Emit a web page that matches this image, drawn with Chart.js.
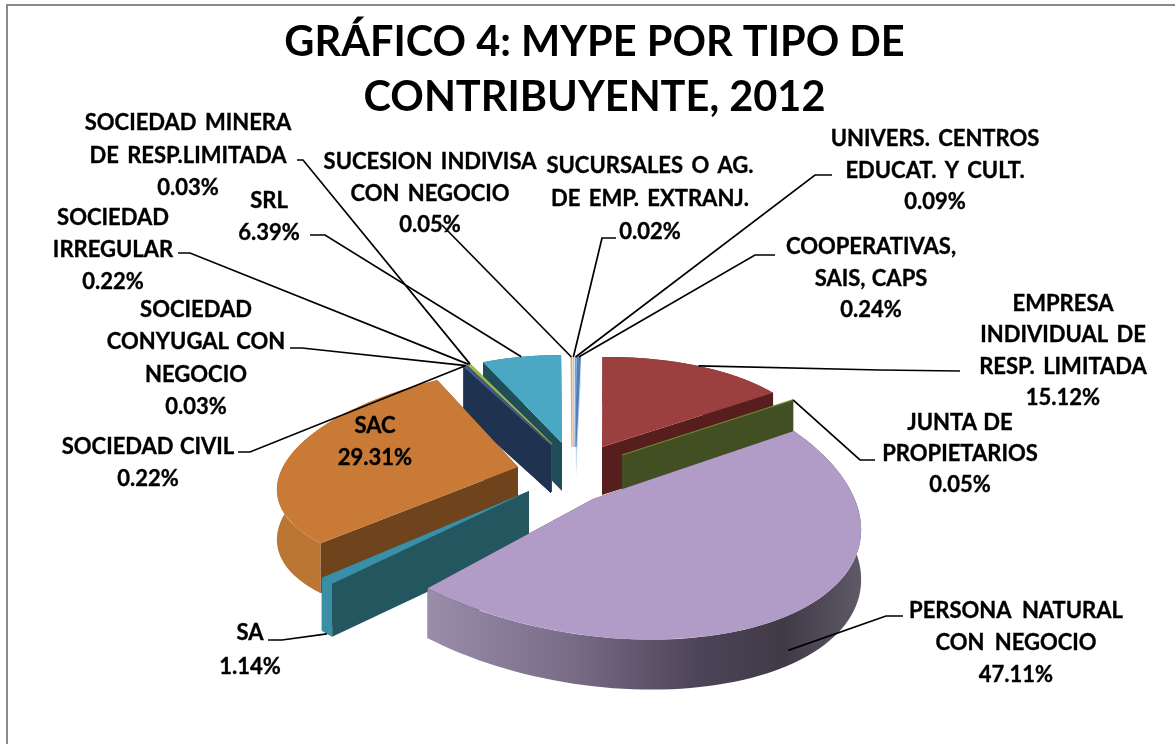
<!DOCTYPE html>
<html lang="es">
<head>
<meta charset="utf-8">
<title>MYPE por tipo de contribuyente, 2012</title>
<script src="https://cdn.jsdelivr.net/npm/chart.js@4"></script>
<style>
html,body{margin:0;padding:0;background:#fff;overflow:hidden}
#wrap{position:absolute;left:0;top:0;width:1175px;height:744px}
#frame{position:absolute;left:6px;top:4px;right:-4px;bottom:-4px;border-left:2px solid #8a8a8a;border-top:2px solid #8a8a8a}
canvas{position:absolute;left:0;top:0}
</style>
</head>
<body>
<div id="wrap"><div id="frame"></div><canvas id="c" width="1175" height="744"></canvas></div>
<script>
const chartTitle = ["GRÁFICO 4: MYPE POR TIPO DE", "CONTRIBUYENTE, 2012"];
const categories = ["UNIVERS. CENTROS EDUCAT. Y CULT.", "COOPERATIVAS, SAIS, CAPS", "EMPRESA INDIVIDUAL DE RESP. LIMITADA", "JUNTA DE PROPIETARIOS", "PERSONA NATURAL CON NEGOCIO", "SA", "SAC", "SOCIEDAD CIVIL", "SOCIEDAD CONYUGAL CON NEGOCIO", "SOCIEDAD IRREGULAR", "SOCIEDAD MINERA DE RESP.LIMITADA", "SRL", "SUCESION INDIVISA CON NEGOCIO", "SUCURSALES O AG. DE EMP. EXTRANJ."];
const values = [0.09, 0.24, 15.12, 0.05, 47.11, 1.14, 29.31, 0.22, 0.03, 0.22, 0.03, 6.39, 0.05, 0.02];
const labelLines = [
  ["UNIVERS. CENTROS", "EDUCAT. Y CULT."], ["COOPERATIVAS,", "SAIS, CAPS"], ["EMPRESA", "INDIVIDUAL DE", "RESP. LIMITADA"],
  ["JUNTA DE", "PROPIETARIOS"], ["PERSONA NATURAL", "CON NEGOCIO"], ["SA"], ["SAC"], ["SOCIEDAD CIVIL"],
  ["SOCIEDAD", "CONYUGAL CON", "NEGOCIO"], ["SOCIEDAD", "IRREGULAR"], ["SOCIEDAD MINERA", "DE RESP.LIMITADA"], ["SRL"],
  ["SUCESION INDIVISA", "CON NEGOCIO"], ["SUCURSALES O AG.", "DE EMP. EXTRANJ."]
];

// Styles
const topColors = ["#7f9fc9", "#4f7fbf", "#9b403f", "#6f8a3a", "#b09cc6", "#3a8fa8", "#c87a36", "#3f5f95", "#a04a48", "#9bbb59", "#8064a2", "#4aa8c4", "#d9a878", "#c9b8a0"];
const faceColors = ["#d4e0ec", "#c6d6e6", "#581e1e", "#414f22", "#4a4356", "#23565f", "#6f431b", "#1f3350", "#5a2020", "#414f22", "#3a2c50", "#1f4e57", "#e0e6ee", "#d8e2ec"];
const rimColors = ["#d4e0ec", "#c6d6e6", "#7a2e2e", "#414f22", null, "#3b8ea5", "#bb7633", "#1f3350", "#5a2020", "#414f22", "#3a2c50", "#2f7f97", "#e0e6ee", "#d8e2ec"];
const borders = [1.4, 1.6, 0, 1.4, 0, 0, 0, 1.6, 0.8, 1.6, 0.8, 0, 1.6, 1.2];
// Projection of each exploded slice: apex x,y + 2×2 matrix + wall depth
const views = [
  [575,447,210,0,0,90,30],[576,447,210,0,0,90,30],[602,447,210,4,-4,90,48],[622,455,207,0,0,98,48],
  [593,499,266,34,13,140,50],[529,491,247,-30,-9,123,53],[518,467,240,-23,-13,102,50],[551,445,207,0,0,87,48],
  [551,445,207,0,0,87,48],[552,444,207,0,0,87,48],[552,444,207,0,0,87,48],[562,443,200,0,0,88,48],
  [572,447,210,0,0,90,30],[573.5,447,210,0,0,90,30]
];
const drawOrder = [12, 13, 0, 1, 11, 10, 9, 8, 7, 2, 3, 6, 5, 4];
// Label layout: centre x, first-line y, line pitch, word gap
const labelPos = [
  [935,139,31.5,3],[871,247,31.5,1],[1063,304,31.3,3],[960,423,31,1],[1016,611,32,5],[250,633,34,1],[375,426,32,1],
  [148,447,32,1],[196,310,32.3,2],[113,218,32,1],[188,123,32.5,3],[269,201,32,1],[430,162,31.5,3],[650,166,33,3]
];
// Leader polyline anchors, ending at the slice edge computed from the arc
const leaders = [
  [[832,175],[815,175]],[[775,255],[755,255]],[[960,371],[880,370]],[[875,460],[860,460]],[[903,616],[886,616]],
  [[268,640],[282,640]],null,[[238,452],[250,452]],[[290,348],[302,348]],[[178,253],[190,253]],[[297,160],[303,160]],
  [[310,235],[325,235]],[[442,225]],[[616,238],[602,238]]
];
const leaderDrop = [0, 0, 0, 0, 0.7, 1, 0, 0, 0, 0, 0, 0, 0, 0];

const pt = (v, phi, r = 1) => [v[0] + r * (v[2] * Math.cos(phi) + v[3] * Math.sin(phi)), v[1] + r * (v[4] * Math.cos(phi) + v[5] * Math.sin(phi))];

function polygon(ctx, pts, fill) {
  ctx.beginPath();
  pts.forEach((p, i) => i ? ctx.lineTo(p[0], p[1]) : ctx.moveTo(p[0], p[1]));
  ctx.closePath();
  ctx.fillStyle = fill;
  ctx.fill();
}

const pie3d = {
  id: 'pie3d',
  beforeDatasetsDraw(chart) {
    const ctx = chart.ctx, arcs = chart.getDatasetMeta(0).data;
    const personaWall = ctx.createLinearGradient(425, 0, 862, 0);
    personaWall.addColorStop(0, '#9b8eab');
    personaWall.addColorStop(0.35, '#776a85');
    personaWall.addColorStop(0.62, '#4d4558');
    personaWall.addColorStop(0.82, '#403a48');
    personaWall.addColorStop(1, '#605a68');
    for (const i of drawOrder) {
      const arc = arcs[i], v = views[i], dp = v[6];
      const s = arc.startAngle, e = arc.endAngle;
      const rim = [], back = [];
      for (let k = 0; k <= 80; k++) {
        const q = pt(v, s + (e - s) * k / 80);
        rim.push(q);
        back.unshift([q[0], q[1] + dp]);
      }
      const apex = [v[0], v[1]];
      const face = phi => {
        const q = pt(v, phi);
        return [apex, q, [q[0], q[1] + dp], [apex[0], apex[1] + dp]];
      };
      const startFace = face(s), endFace = face(e);
      // A cut face looks at the viewer when its downward shift leaves the sector
      const startFront = startFace[1][0] < apex[0];
      const endFront = endFace[1][0] > apex[0];
      if (!startFront) polygon(ctx, startFace, faceColors[i]);
      if (!endFront) polygon(ctx, endFace, faceColors[i]);
      polygon(ctx, rim.concat(back), rimColors[i] || personaWall);
      if (startFront) polygon(ctx, startFace, faceColors[i]);
      if (endFront) polygon(ctx, endFace, faceColors[i]);
      const R = arc.outerRadius;
      ctx.save();
      ctx.transform(v[2] / R, v[4] / R, v[3] / R, v[5] / R,
        v[0] - (v[2] * arc.x + v[3] * arc.y) / R, v[1] - (v[4] * arc.x + v[5] * arc.y) / R);
      arc.draw(ctx);
      ctx.restore();
    }
    // leader lines
    ctx.strokeStyle = '#000';
    ctx.lineWidth = 1.7;
    leaders.forEach((l, i) => {
      if (!l) return;
      const mid = (arcs[i].startAngle + arcs[i].endAngle) / 2;
      const end = pt(views[i], mid);
      ctx.beginPath();
      l.forEach((p, j) => j ? ctx.lineTo(p[0], p[1]) : ctx.moveTo(p[0], p[1]));
      ctx.lineTo(end[0], end[1] + leaderDrop[i] * views[i][6]);
      ctx.stroke();
    });
    // data labels
    ctx.fillStyle = '#000';
    ctx.lineWidth = 0.35;
    ctx.font = 'bold 22px Lato, sans-serif';
    ctx.textAlign = 'center';
    ctx.textBaseline = 'middle';
    labelLines.forEach((lines, i) => {
      const [x, y, step, gap] = labelPos[i];
      ctx.wordSpacing = gap + 'px';
      lines.concat(values[i].toFixed(2) + '%').forEach((t, j) => {
        ctx.fillText(t, x, y + j * step);
        ctx.strokeText(t, x, y + j * step);
      });
    });
    ctx.wordSpacing = '0px';
    return false;
  }
};

new Chart(document.getElementById('c'), {
  type: 'pie',
  data: {
    labels: categories,
    datasets: [{
      data: values,
      backgroundColor: topColors,
      borderColor: topColors,
      borderWidth: borders,
      clip: false
    }]
  },
  options: {
    responsive: false,
    animation: false,
    layout: { padding: { left: 14, right: 0, top: 0, bottom: 0 } },
    plugins: {
      legend: { display: false },
      tooltip: { enabled: false },
      title: {
        display: true,
        text: chartTitle,
        color: '#000',
        font: { family: 'Lato, sans-serif', size: 41.5, weight: 'bold', lineHeight: 1.32 },
        padding: { top: 15, bottom: 0 }
      }
    }
  },
  plugins: [pie3d]
});
</script>
</body>
</html>
